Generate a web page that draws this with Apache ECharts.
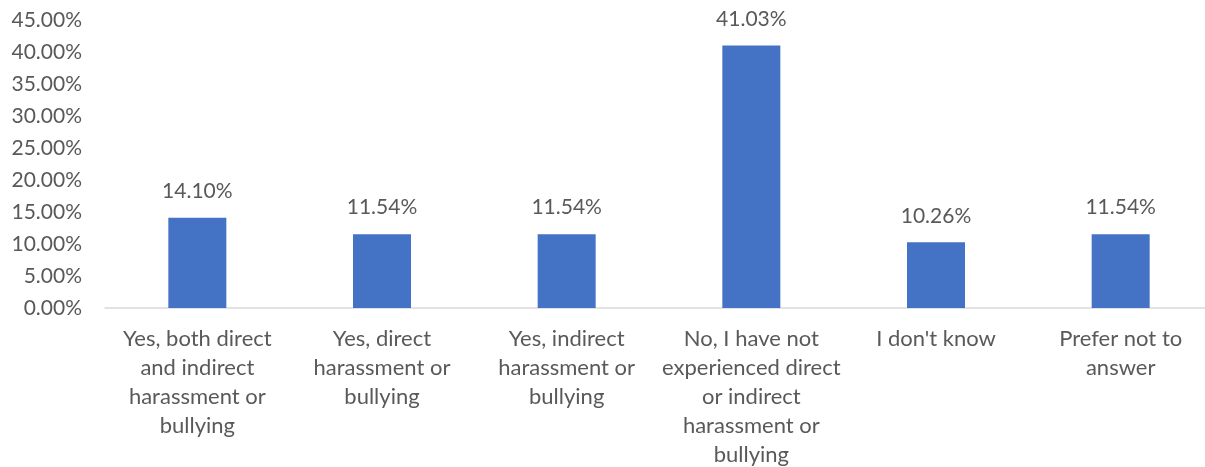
<!DOCTYPE html>
<html>
<head>
<meta charset="utf-8">
<script src="https://cdn.jsdelivr.net/npm/echarts@6/dist/echarts.min.js"></script>
<style>
  html, body { margin: 0; padding: 0; background: #fff; }
  #chart { width: 1205px; height: 467px; }
</style>
</head>
<body>
<div id="chart"></div>
<script>
var categories = [
    'Yes, both direct\nand indirect\nharassment or\nbullying',
    'Yes, direct\nharassment or\nbullying',
    'Yes, indirect\nharassment or\nbullying',
    'No, I have not\nexperienced direct\nor indirect\nharassment or\nbullying',
    "I don't know",
    'Prefer not to\nanswer'
];
var values = [14.10, 11.54, 11.54, 41.03, 10.26, 11.54];

var textColor = '#595959';
var fontFamily = 'Lato, "Open Sans", sans-serif';

var myChart = echarts.init(document.getElementById('chart'));
var option = {
    animation: false,
    grid: {
        left: 105,
        width: 1108,
        top: 20,
        bottom: 159,
        outerBoundsMode: 'none'
    },
    xAxis: {
        type: 'category',
        data: categories,
        axisLine: { show: true, lineStyle: { color: '#d9d9d9', width: 1.5 } },
        axisTick: { show: false },
        axisLabel: {
            interval: 0,
            margin: 16,
            color: textColor,
            fontSize: 22,
            lineHeight: 29,
            fontFamily: fontFamily
        }
    },
    yAxis: {
        type: 'value',
        min: 0,
        max: 45,
        interval: 5,
        splitLine: { show: false },
        axisLine: { show: false },
        axisTick: { show: false },
        axisLabel: {
            margin: 23,
            color: textColor,
            fontSize: 21,
            fontFamily: fontFamily,
            formatter: function (v) { return v.toFixed(2) + '%'; }
        }
    },
    series: [
        {
            type: 'bar',
            data: values,
            barWidth: 58,
            itemStyle: { color: '#4472C4' },
            label: {
                show: true,
                position: 'top',
                distance: 16,
                color: textColor,
                fontSize: 21,
                fontFamily: fontFamily,
                formatter: function (p) { return p.value.toFixed(2) + '%'; }
            }
        }
    ]
};
myChart.setOption(option);
</script>
</body>
</html>
